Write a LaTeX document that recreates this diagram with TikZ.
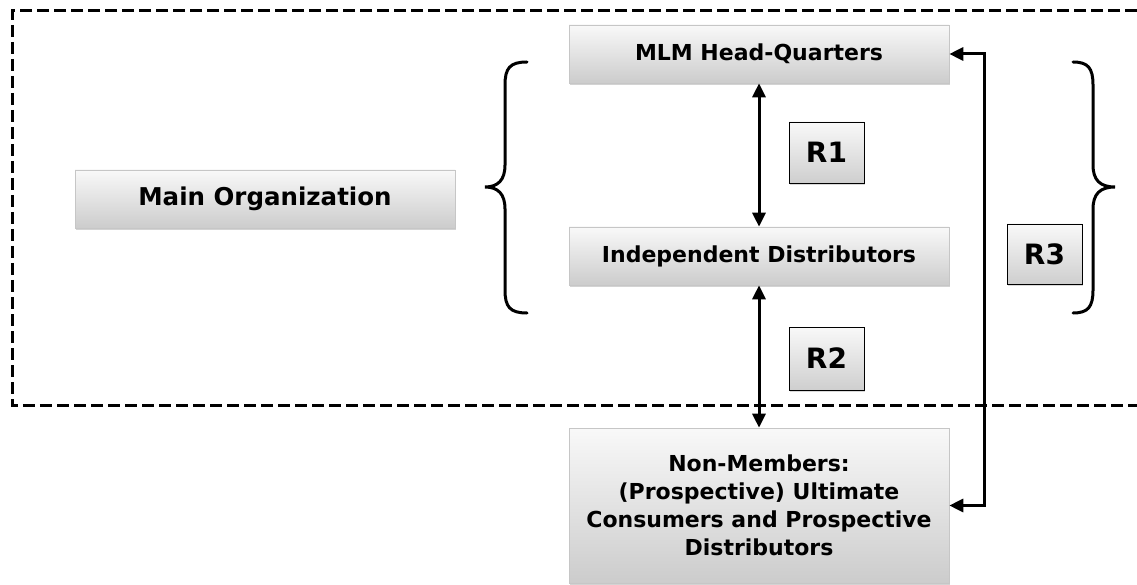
\documentclass[tikz,border=0pt]{standalone}
\usepackage{fontspec}
\setmainfont{DejaVu Sans}
\usetikzlibrary{arrows.meta,shadows}
\tikzset{
  box/.style={draw=gray!45, line width=0.6pt, top color=gray!5, bottom color=gray!40,
    minimum width=380pt, minimum height=58pt, inner sep=2pt, align=center,
    font=\bfseries\fontsize{22}{28}\selectfont,
    drop shadow={opacity=0.35, shadow xshift=1pt, shadow yshift=-2pt}},
  rbox/.style={draw=black, line width=0.9pt, top color=gray!5, bottom color=gray!38,
    minimum width=75pt, minimum height=61pt, inner sep=0pt,
    font=\bfseries\fontsize{28}{30}\selectfont,
    drop shadow={opacity=0.3, shadow xshift=1pt, shadow yshift=-2pt}},
  tip/.tip={Triangle[length=14pt,width=13pt]},
  conn/.style={draw=black, line width=3pt, arrows={tip-tip}},
  frame/.style={line width=3pt, dash pattern=on 12pt off 5pt},
  bracepath/.style={line width=3pt, line cap=round}
}
\begin{document}
\begin{tikzpicture}[x=1pt,y=-1pt]
\useasboundingbox (0,0) rectangle (1137,585);
% dashed frame (open on the right)
\draw[frame] (1137,11) -- (12,11) -- (12,405) -- (1137,405);
% boxes
\node[box] (mlm) at (759,54) {MLM Head-Quarters};
\node[box, font=\bfseries\fontsize{24.5}{28}\selectfont] (main) at (265,199) {Main Organization};
\node[box] (ind) at (759,256) {Independent Distributors};
\node[box, minimum height=155pt] (non) at (759,505.5) {Non-Members:\\(Prospective) Ultimate\\Consumers and Prospective\\Distributors};
\node[rbox] (r1) at (826.5,152.5) {R1};
\node[rbox, minimum height=63pt] (r2) at (826.5,358.5) {R2};
\node[rbox, minimum height=60pt] (r3) at (1044.5,254) {R3};
% connectors
\draw[conn] (mlm.south) -- (ind.north);
\draw[conn] (ind.south) -- (non.north);
\coordinate (r3top) at (984,54);
\draw[conn] (mlm.east) -- (r3top) |- (non.east);
% braces
\draw[bracepath] (527,62) .. controls (510,62) and (505,68) .. (505,85) -- (505,165)
  .. controls (505,180) and (498,187) .. (485,187)
  .. controls (498,187) and (505,194) .. (505,209) -- (505,290)
  .. controls (505,307) and (510,313) .. (527,313);
\draw[bracepath] (1073,62) .. controls (1088,62) and (1093,68) .. (1093,85) -- (1093,165)
  .. controls (1093,180) and (1100,187) .. (1115,187)
  .. controls (1100,187) and (1093,194) .. (1093,209) -- (1093,290)
  .. controls (1093,307) and (1088,313) .. (1073,313);
\end{tikzpicture}
\end{document}
